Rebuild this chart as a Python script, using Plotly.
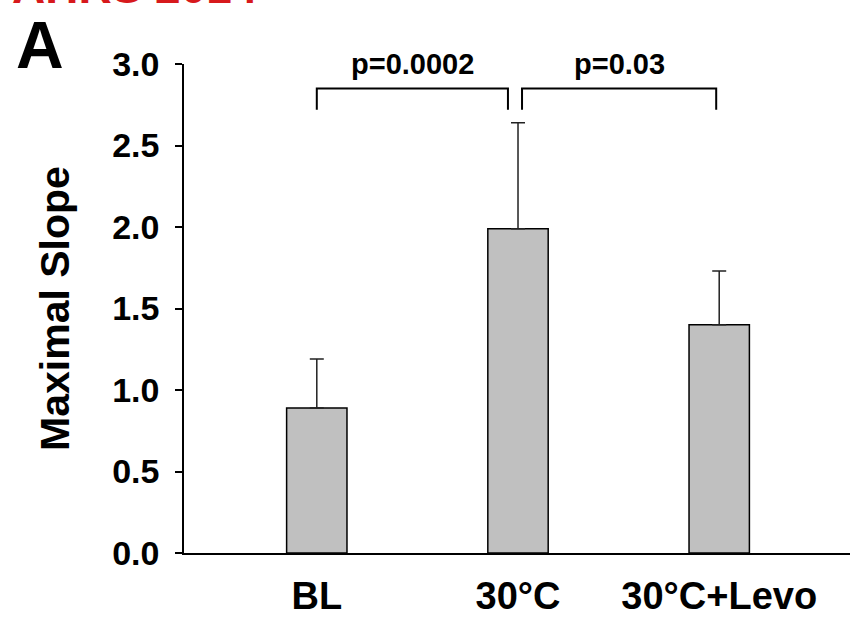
import plotly.graph_objects as go

categories = ["BL", "30°C", "30°C+Levo"]
means = [0.89, 1.99, 1.40]
errors = [0.30, 0.65, 0.33]
y_ticks = [0.0, 0.5, 1.0, 1.5, 2.0, 2.5, 3.0]
comparisons = [("p=0.0002", 0, 1), ("p=0.03", 1, 2)]

FONT = "Liberation Sans Narrow, Arial Narrow, Liberation Sans, Arial, sans-serif"
x_pos = list(range(len(categories)))

fig = go.Figure()
fig.add_trace(go.Bar(
    x=x_pos, y=means, width=0.3,
    marker=dict(color="#c0c0c0", line=dict(color="black", width=1.5)),
    error_y=dict(type="data", array=errors, arrayminus=[0] * len(errors),
                 symmetric=False, color="#222", thickness=1.5, width=7),
))

# significance brackets
bracket_y = 2.85
bracket_drop = 0.13
bracket_ends = [(0.0, 0.95), (1.02, 1.985)]
for (label, a, b), (x0, x1) in zip(comparisons, bracket_ends):
    fig.add_shape(type="path", xref="x", yref="y",
                  path=f"M {x0},{bracket_y - bracket_drop} L {x0},{bracket_y} L {x1},{bracket_y} L {x1},{bracket_y - bracket_drop}",
                  line=dict(color="black", width=2))
    fig.add_annotation(x=(x0 + x1) / 2, y=3.0, xref="x", yref="y",
                       text=f"<b>{label}</b>", showarrow=False,
                       font=dict(family=FONT, size=29, color="black"))

fig.add_annotation(x=-0.256, y=1.039, xref="paper", yref="paper", text="<b>A</b>",
                   showarrow=False, font=dict(family=FONT, size=66, color="black"),
                   xanchor="left", yanchor="middle")
fig.add_annotation(x=-0.262, y=1.157, xref="paper", yref="paper", text="<b>AHRS 2014</b>",
                   showarrow=False, font=dict(family=FONT, size=46, color="#d7191c"),
                   xanchor="left", yanchor="middle")

fig.update_layout(
    width=850, height=618,
    margin=dict(l=184, r=0, t=64, b=65),
    plot_bgcolor="white", paper_bgcolor="white",
    showlegend=False,
    font=dict(family=FONT, color="black"),
    xaxis=dict(range=[-0.66, 2.65], tickvals=x_pos,
               ticktext=[f"<b>{c}</b>" for c in categories],
               showline=True, linecolor="black", linewidth=1.5,
               ticks="", showgrid=False, zeroline=False, automargin=False,
               tickfont=dict(family=FONT, size=38, color="black"),
               ticklabelstandoff=9),
    yaxis=dict(range=[0, 3.0], tickvals=y_ticks,
               ticktext=[f"<b>{v:.1f}</b>" for v in y_ticks],
               showline=True, linecolor="black", linewidth=1.5,
               ticks="outside", ticklen=7, tickwidth=1.5, tickcolor="black",
               showgrid=False, zeroline=False, automargin=False,
               tickfont=dict(family=FONT, size=34, color="black"),
               ticklabelstandoff=9,
               title=dict(text="<b>Maximal Slope</b>", standoff=30,
                          font=dict(family=FONT, size=41, color="black"))),
)

fig.write_html("out.html", config={"displayModeBar": False},
               post_script="document.body.style.margin='0';")
